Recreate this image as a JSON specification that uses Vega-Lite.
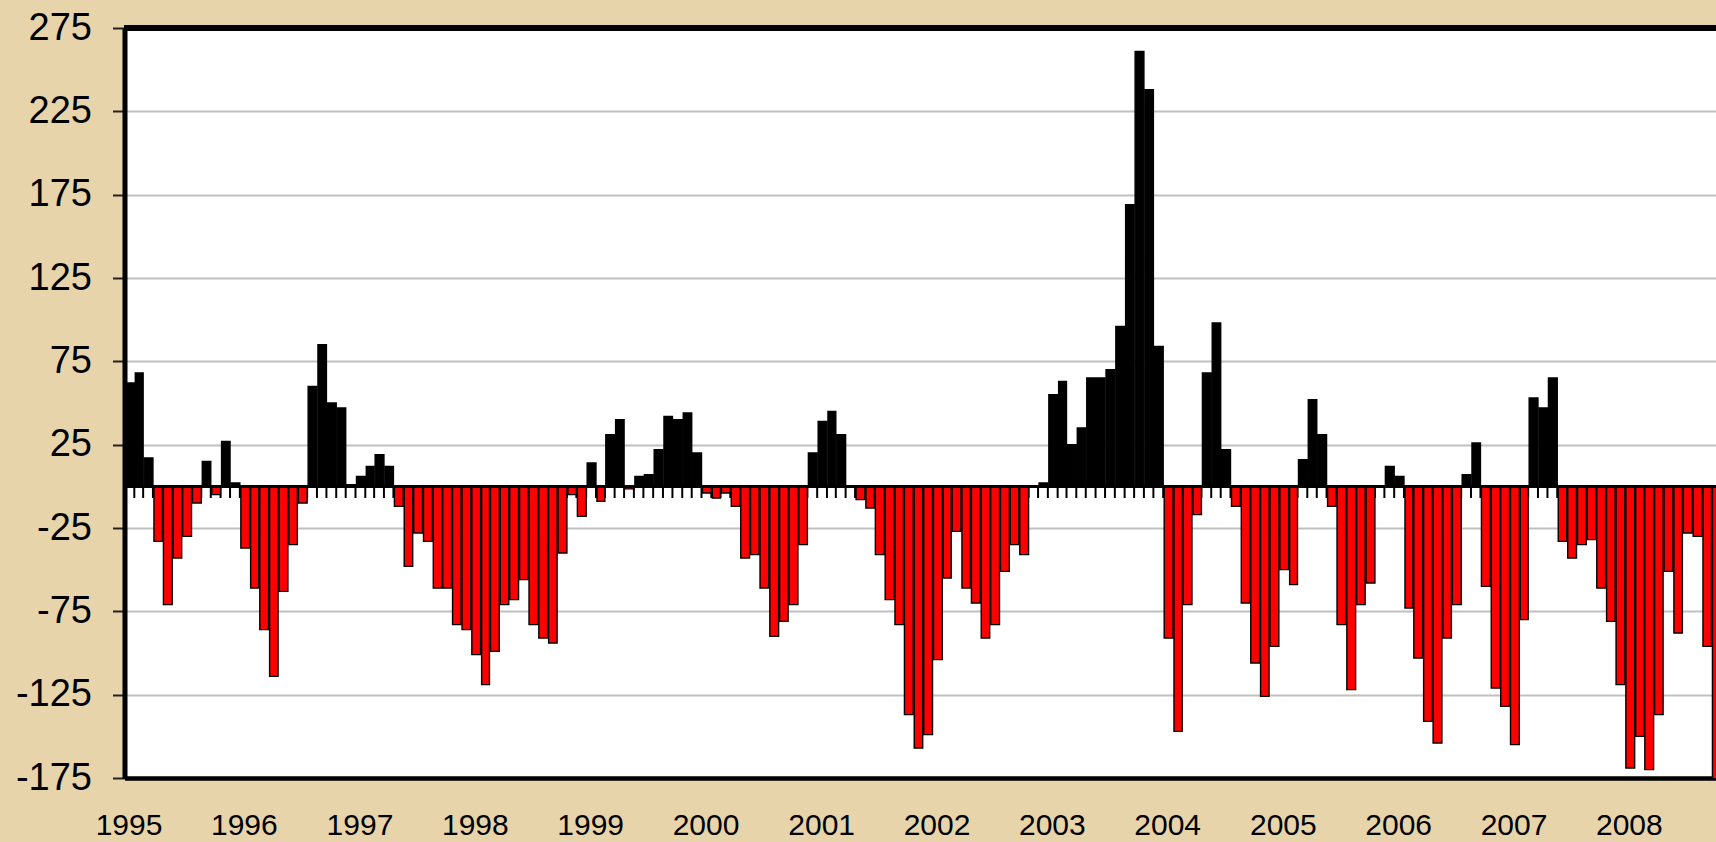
{
  "$schema": "https://vega.github.io/schema/vega-lite/v6.json",
  "width": 1591.5,
  "height": 750,
  "autosize": {"type": "none"},
  "padding": {"left": 124.5, "top": 28, "right": 0, "bottom": 64},
  "background": "#e7d4aa",
  "view": {"fill": "#ffffff", "stroke": null},
  "config": {"font": "Liberation Sans"},
  "data": {
    "format": {"parse": {"month": "date:'%Y-%m'"}},
    "values": [
      {"month": "1995-01", "value": 62}, {"month": "1995-02", "value": 68}, {"month": "1995-03", "value": 17}, {"month": "1995-04", "value": -33},
      {"month": "1995-05", "value": -71}, {"month": "1995-06", "value": -43}, {"month": "1995-07", "value": -30}, {"month": "1995-08", "value": -10},
      {"month": "1995-09", "value": 15}, {"month": "1995-10", "value": -5}, {"month": "1995-11", "value": 27}, {"month": "1995-12", "value": 2},
      {"month": "1996-01", "value": -37}, {"month": "1996-02", "value": -61}, {"month": "1996-03", "value": -86}, {"month": "1996-04", "value": -114},
      {"month": "1996-05", "value": -63}, {"month": "1996-06", "value": -35}, {"month": "1996-07", "value": -10}, {"month": "1996-08", "value": 60},
      {"month": "1996-09", "value": 85}, {"month": "1996-10", "value": 50}, {"month": "1996-11", "value": 47}, {"month": "1996-12", "value": 1},
      {"month": "1997-01", "value": 6}, {"month": "1997-02", "value": 12}, {"month": "1997-03", "value": 19}, {"month": "1997-04", "value": 12},
      {"month": "1997-05", "value": -12}, {"month": "1997-06", "value": -48}, {"month": "1997-07", "value": -28}, {"month": "1997-08", "value": -33},
      {"month": "1997-09", "value": -61}, {"month": "1997-10", "value": -61}, {"month": "1997-11", "value": -83}, {"month": "1997-12", "value": -86},
      {"month": "1998-01", "value": -101}, {"month": "1998-02", "value": -119}, {"month": "1998-03", "value": -99}, {"month": "1998-04", "value": -71},
      {"month": "1998-05", "value": -68}, {"month": "1998-06", "value": -56}, {"month": "1998-07", "value": -83}, {"month": "1998-08", "value": -91},
      {"month": "1998-09", "value": -94}, {"month": "1998-10", "value": -40}, {"month": "1998-11", "value": -5}, {"month": "1998-12", "value": -18},
      {"month": "1999-01", "value": 14}, {"month": "1999-02", "value": -9}, {"month": "1999-03", "value": 31}, {"month": "1999-04", "value": 40},
      {"month": "1999-05", "value": -1.5}, {"month": "1999-06", "value": 6}, {"month": "1999-07", "value": 7}, {"month": "1999-08", "value": 22},
      {"month": "1999-09", "value": 42}, {"month": "1999-10", "value": 40}, {"month": "1999-11", "value": 44}, {"month": "1999-12", "value": 20},
      {"month": "2000-01", "value": -4}, {"month": "2000-02", "value": -7}, {"month": "2000-03", "value": -4}, {"month": "2000-04", "value": -12},
      {"month": "2000-05", "value": -43}, {"month": "2000-06", "value": -41}, {"month": "2000-07", "value": -61}, {"month": "2000-08", "value": -90},
      {"month": "2000-09", "value": -81}, {"month": "2000-10", "value": -71}, {"month": "2000-11", "value": -35}, {"month": "2000-12", "value": 20},
      {"month": "2001-01", "value": 39}, {"month": "2001-02", "value": 45}, {"month": "2001-03", "value": 31}, {"month": "2001-04", "value": 0},
      {"month": "2001-05", "value": -8}, {"month": "2001-06", "value": -13}, {"month": "2001-07", "value": -41}, {"month": "2001-08", "value": -68},
      {"month": "2001-09", "value": -83}, {"month": "2001-10", "value": -137}, {"month": "2001-11", "value": -157}, {"month": "2001-12", "value": -149},
      {"month": "2002-01", "value": -104}, {"month": "2002-02", "value": -55}, {"month": "2002-03", "value": -27}, {"month": "2002-04", "value": -61},
      {"month": "2002-05", "value": -70}, {"month": "2002-06", "value": -91}, {"month": "2002-07", "value": -83}, {"month": "2002-08", "value": -51},
      {"month": "2002-09", "value": -35}, {"month": "2002-10", "value": -41}, {"month": "2002-11", "value": 0}, {"month": "2002-12", "value": 2},
      {"month": "2003-01", "value": 55}, {"month": "2003-02", "value": 63}, {"month": "2003-03", "value": 25}, {"month": "2003-04", "value": 35},
      {"month": "2003-05", "value": 65}, {"month": "2003-06", "value": 65}, {"month": "2003-07", "value": 70}, {"month": "2003-08", "value": 96},
      {"month": "2003-09", "value": 169}, {"month": "2003-10", "value": 261}, {"month": "2003-11", "value": 238}, {"month": "2003-12", "value": 84},
      {"month": "2004-01", "value": -91}, {"month": "2004-02", "value": -147}, {"month": "2004-03", "value": -71}, {"month": "2004-04", "value": -17},
      {"month": "2004-05", "value": 68}, {"month": "2004-06", "value": 98}, {"month": "2004-07", "value": 22}, {"month": "2004-08", "value": -12},
      {"month": "2004-09", "value": -70}, {"month": "2004-10", "value": -106}, {"month": "2004-11", "value": -126}, {"month": "2004-12", "value": -96},
      {"month": "2005-01", "value": -50}, {"month": "2005-02", "value": -59}, {"month": "2005-03", "value": 16}, {"month": "2005-04", "value": 52},
      {"month": "2005-05", "value": 31}, {"month": "2005-06", "value": -12}, {"month": "2005-07", "value": -83}, {"month": "2005-08", "value": -122},
      {"month": "2005-09", "value": -71}, {"month": "2005-10", "value": -58}, {"month": "2005-11", "value": 0}, {"month": "2005-12", "value": 12},
      {"month": "2006-01", "value": 6}, {"month": "2006-02", "value": -73}, {"month": "2006-03", "value": -103}, {"month": "2006-04", "value": -141},
      {"month": "2006-05", "value": -154}, {"month": "2006-06", "value": -91}, {"month": "2006-07", "value": -71}, {"month": "2006-08", "value": 7},
      {"month": "2006-09", "value": 26}, {"month": "2006-10", "value": -60}, {"month": "2006-11", "value": -121}, {"month": "2006-12", "value": -132},
      {"month": "2007-01", "value": -155}, {"month": "2007-02", "value": -80}, {"month": "2007-03", "value": 53}, {"month": "2007-04", "value": 47},
      {"month": "2007-05", "value": 65}, {"month": "2007-06", "value": -33}, {"month": "2007-07", "value": -43}, {"month": "2007-08", "value": -35},
      {"month": "2007-09", "value": -32}, {"month": "2007-10", "value": -61}, {"month": "2007-11", "value": -81}, {"month": "2007-12", "value": -119},
      {"month": "2008-01", "value": -169}, {"month": "2008-02", "value": -150}, {"month": "2008-03", "value": -170}, {"month": "2008-04", "value": -137},
      {"month": "2008-05", "value": -51}, {"month": "2008-06", "value": -88}, {"month": "2008-07", "value": -28}, {"month": "2008-08", "value": -30},
      {"month": "2008-09", "value": -96}, {"month": "2008-10", "value": -180}
    ]
  },
  "layer": [
    {
      "mark": {"type": "rule", "color": "#000000", "strokeWidth": 2},
      "encoding": {
        "x": {
          "field": "month", "timeUnit": "yearmonth", "type": "temporal", "bandPosition": 0, "title": null,
          "scale": {"domain": [{"year": 1995, "month": 1, "date": 1}, {"year": 2008, "month": 10, "date": 15, "hours": 10}], "nice": false},
          "axis": {
            "orient": "bottom", "format": "%Y", "tickCount": {"interval": "year", "step": 1},
            "domain": true, "domainColor": "#000000", "domainWidth": 4.5,
            "ticks": false, "tickSize": 0, "grid": false,
            "labelFontSize": 30, "labelColor": "#000000", "labelPadding": 32, "labelFlush": false,
            "labelOffset": 4, "labelOverlap": false
          }
        },
        "y": {
          "datum": 0, "type": "quantitative",
          "scale": {"domain": [-175, 275], "nice": false, "zero": false},
          "axis": {
            "values": [-175, -125, -75, -25, 25, 75, 125, 175, 225, 275],
            "labelExpr": "'' + datum.value",
            "title": null,
            "grid": true, "gridColor": "#c0c0c0", "gridWidth": 2,
            "domain": true, "domainColor": "#000000", "domainWidth": 5,
            "ticks": true, "tickSize": 12, "tickWidth": 2, "tickColor": "#222222",
            "labelFontSize": 38, "labelColor": "#000000", "labelPadding": 21
          }
        },
        "y2": {"datum": -7}
      }
    },
    {
      "mark": {"type": "bar", "clip": true, "stroke": "#000000", "strokeWidth": 1.4, "timeUnitBandSize": 0.8, "timeUnitBandPosition": 0.1},
      "encoding": {
        "x": {"field": "month", "timeUnit": "yearmonth", "type": "temporal", "title": null},
        "y": {"field": "value", "type": "quantitative", "title": null},
        "fill": {"condition": {"test": "datum.value < 0", "value": "#ff0000"}, "value": "#000000"}
      }
    },
    {
      "mark": {"type": "rule", "color": "#000000", "strokeWidth": 2.5},
      "encoding": {"y": {"datum": 0, "type": "quantitative"}}
    },
    {
      "mark": {"type": "rule", "color": "#000000", "strokeWidth": 4.5},
      "encoding": {"y": {"datum": 275, "type": "quantitative"}}
    }
  ]
}
